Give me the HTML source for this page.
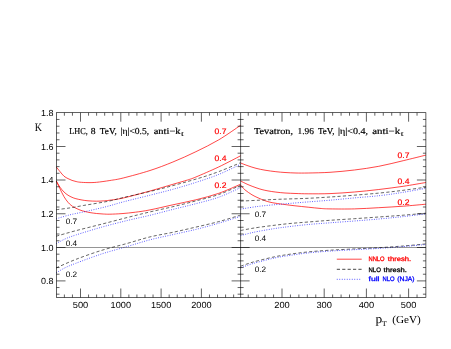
<!DOCTYPE html>
<html><head><meta charset="utf-8"><title>K factors</title>
<style>
html,body{margin:0;padding:0;background:#fff;}
body{width:451px;height:349px;overflow:hidden;font-family:"Liberation Sans",sans-serif;}
svg{display:block;will-change:transform;opacity:0.9999;}
svg text{text-rendering:geometricPrecision;}
</style></head><body>
<svg width="451" height="349" viewBox="0 0 451 349">
<rect width="451" height="349" fill="#ffffff"/>
<g fill="none">
<path d="M56.30,167.00 C56.92,167.77 58.72,170.07 60.00,171.60 C61.28,173.13 62.67,175.03 64.00,176.20 C65.33,177.37 66.67,177.90 68.00,178.60 C69.33,179.30 70.67,179.92 72.00,180.40 C73.33,180.88 74.68,181.20 76.00,181.50 C77.32,181.80 77.90,182.02 79.90,182.20 C81.90,182.38 85.22,182.58 88.00,182.60 C90.78,182.62 92.95,182.65 96.60,182.30 C100.25,181.95 105.47,181.22 109.90,180.50 C114.33,179.78 116.52,179.67 123.20,178.00 C129.88,176.33 141.72,173.17 150.00,170.50 C158.28,167.83 165.25,165.13 172.90,162.00 C180.55,158.87 188.25,155.40 195.90,151.70 C203.55,148.00 211.35,144.20 218.80,139.80 C226.25,135.40 236.97,127.72 240.60,125.30" stroke="#ff0000" stroke-width="0.72"/>
<path d="M56.30,181.00 C56.92,182.03 58.72,185.37 60.00,187.20 C61.28,189.03 62.67,190.67 64.00,192.00 C65.33,193.33 66.67,194.32 68.00,195.20 C69.33,196.08 70.68,196.72 72.00,197.30 C73.32,197.88 74.23,198.25 75.90,198.70 C77.57,199.15 79.98,199.65 82.00,200.00 C84.02,200.35 85.57,200.60 88.00,200.80 C90.43,201.00 94.07,201.18 96.60,201.20 C99.13,201.22 100.98,201.07 103.20,200.90 C105.42,200.73 106.57,200.68 109.90,200.20 C113.23,199.72 116.52,199.53 123.20,198.00 C129.88,196.47 141.72,193.28 150.00,191.00 C158.28,188.72 166.65,186.13 172.90,184.30 C179.15,182.47 183.67,181.22 187.50,180.00 C191.33,178.78 190.68,179.18 195.90,177.00 C201.12,174.82 211.35,170.43 218.80,166.90 C226.25,163.37 236.97,157.65 240.60,155.80" stroke="#ff0000" stroke-width="0.72"/>
<path d="M56.30,181.20 C56.92,182.47 58.72,186.22 60.00,188.80 C61.28,191.38 62.67,194.45 64.00,196.70 C65.33,198.95 66.83,200.88 68.00,202.30 C69.17,203.72 69.95,204.35 71.00,205.20 C72.05,206.05 72.80,206.60 74.30,207.40 C75.80,208.20 78.22,209.32 80.00,210.00 C81.78,210.68 83.33,211.07 85.00,211.50 C86.67,211.93 88.07,212.27 90.00,212.60 C91.93,212.93 94.40,213.27 96.60,213.50 C98.80,213.73 100.98,213.88 103.20,214.00 C105.42,214.12 106.77,214.27 109.90,214.20 C113.03,214.13 117.75,213.93 122.00,213.60 C126.25,213.27 130.73,212.82 135.40,212.20 C140.07,211.58 143.75,211.13 150.00,209.90 C156.25,208.67 165.25,206.48 172.90,204.80 C180.55,203.12 188.25,201.72 195.90,199.80 C203.55,197.88 211.35,195.90 218.80,193.30 C226.25,190.70 236.97,185.72 240.60,184.20" stroke="#ff0000" stroke-width="0.72"/>
<path d="M56.20,209.70 C58.50,209.40 65.48,208.60 70.00,207.90 C74.52,207.20 78.87,206.27 83.30,205.50 C87.73,204.73 92.17,204.07 96.60,203.30 C101.03,202.53 105.47,201.85 109.90,200.90 C114.33,199.95 114.85,199.58 123.20,197.60 C131.55,195.62 147.58,192.17 160.00,189.00 C172.42,185.83 187.90,181.50 197.70,178.60 C207.50,175.70 211.65,174.25 218.80,171.60 C225.95,168.95 236.97,164.18 240.60,162.70" stroke="#000000" stroke-width="0.60" stroke-dasharray="3.2,2.2"/>
<path d="M56.20,218.80 C58.50,218.13 65.48,215.93 70.00,214.80 C74.52,213.67 78.87,212.97 83.30,212.00 C87.73,211.03 92.17,210.05 96.60,209.00 C101.03,207.95 105.47,206.88 109.90,205.70 C114.33,204.52 116.52,203.65 123.20,201.90 C129.88,200.15 141.72,197.30 150.00,195.20 C158.28,193.10 165.25,191.43 172.90,189.30 C180.55,187.17 188.25,184.88 195.90,182.40 C203.55,179.92 211.35,177.42 218.80,174.40 C226.25,171.38 236.97,165.98 240.60,164.30" stroke="#0000ff" stroke-width="0.68" stroke-dasharray="0.9,1.5"/>
<path d="M56.20,236.20 C59.47,235.28 68.25,232.70 75.80,230.70 C83.35,228.70 92.92,226.40 101.50,224.20 C110.08,222.00 119.22,219.55 127.30,217.50 C135.38,215.45 142.40,213.70 150.00,211.90 C157.60,210.10 165.25,208.53 172.90,206.70 C180.55,204.87 188.25,202.93 195.90,200.90 C203.55,198.87 211.35,197.10 218.80,194.50 C226.25,191.90 236.97,186.83 240.60,185.30" stroke="#000000" stroke-width="0.60" stroke-dasharray="3.2,2.2"/>
<path d="M56.20,243.60 C57.67,242.83 61.73,240.43 65.00,239.00 C68.27,237.57 69.72,236.97 75.80,235.00 C81.88,233.03 92.92,229.62 101.50,227.20 C110.08,224.78 119.22,222.48 127.30,220.50 C135.38,218.52 142.40,217.15 150.00,215.30 C157.60,213.45 165.25,211.33 172.90,209.40 C180.55,207.47 188.25,205.73 195.90,203.70 C203.55,201.67 211.35,199.88 218.80,197.20 C226.25,194.52 236.97,189.20 240.60,187.60" stroke="#0000ff" stroke-width="0.68" stroke-dasharray="0.9,1.5"/>
<path d="M56.20,267.90 C59.47,266.48 68.25,262.32 75.80,259.40 C83.35,256.48 92.92,253.07 101.50,250.40 C110.08,247.73 119.22,245.65 127.30,243.40 C135.38,241.15 142.40,238.75 150.00,236.90 C157.60,235.05 165.25,233.93 172.90,232.30 C180.55,230.67 188.25,228.88 195.90,227.10 C203.55,225.32 211.35,223.60 218.80,221.60 C226.25,219.60 236.97,216.18 240.60,215.10" stroke="#000000" stroke-width="0.60" stroke-dasharray="3.2,2.2"/>
<path d="M56.20,272.80 C57.67,271.97 61.73,269.38 65.00,267.80 C68.27,266.22 69.72,265.60 75.80,263.30 C81.88,261.00 92.92,256.80 101.50,254.00 C110.08,251.20 119.22,248.87 127.30,246.50 C135.38,244.13 142.40,241.78 150.00,239.80 C157.60,237.82 165.25,236.33 172.90,234.60 C180.55,232.87 188.25,231.30 195.90,229.40 C203.55,227.50 211.35,225.38 218.80,223.20 C226.25,221.02 236.97,217.45 240.60,216.30" stroke="#0000ff" stroke-width="0.68" stroke-dasharray="0.9,1.5"/>
<path d="M240.60,163.00 C241.83,163.47 245.43,164.92 248.00,165.80 C250.57,166.68 253.17,167.57 256.00,168.30 C258.83,169.03 261.68,169.63 265.00,170.20 C268.32,170.77 272.57,171.32 275.90,171.70 C279.23,172.08 281.65,172.28 285.00,172.50 C288.35,172.72 292.13,172.92 296.00,173.00 C299.87,173.08 302.53,173.12 308.20,173.00 C313.87,172.88 322.30,172.80 330.00,172.30 C337.70,171.80 346.27,171.00 354.40,170.00 C362.53,169.00 370.67,167.85 378.80,166.30 C386.93,164.75 395.35,162.57 403.20,160.70 C411.05,158.83 422.12,156.03 425.90,155.10" stroke="#ff0000" stroke-width="0.72"/>
<path d="M240.60,181.00 C241.83,181.60 245.43,183.48 248.00,184.60 C250.57,185.72 253.67,186.87 256.00,187.70 C258.33,188.53 260.00,189.07 262.00,189.60 C264.00,190.13 265.68,190.48 268.00,190.90 C270.32,191.32 273.07,191.75 275.90,192.10 C278.73,192.45 281.65,192.77 285.00,193.00 C288.35,193.23 292.13,193.37 296.00,193.50 C299.87,193.63 302.53,193.78 308.20,193.80 C313.87,193.82 322.30,193.90 330.00,193.60 C337.70,193.30 346.27,192.68 354.40,192.00 C362.53,191.32 370.67,190.45 378.80,189.50 C386.93,188.55 395.35,187.47 403.20,186.30 C411.05,185.13 422.12,183.13 425.90,182.50" stroke="#ff0000" stroke-width="0.72"/>
<path d="M240.60,185.00 C241.32,185.80 243.00,188.17 244.90,189.80 C246.80,191.43 249.82,193.47 252.00,194.80 C254.18,196.13 255.93,196.85 258.00,197.80 C260.07,198.75 262.40,199.77 264.40,200.50 C266.40,201.23 268.07,201.73 270.00,202.20 C271.93,202.67 273.70,202.93 276.00,203.30 C278.30,203.67 280.63,203.98 283.80,204.40 C286.97,204.82 290.93,205.33 295.00,205.80 C299.07,206.27 304.03,206.77 308.20,207.20 C312.37,207.63 316.37,208.12 320.00,208.40 C323.63,208.68 324.27,208.82 330.00,208.90 C335.73,208.98 346.27,209.10 354.40,208.90 C362.53,208.70 370.67,208.15 378.80,207.70 C386.93,207.25 395.35,206.78 403.20,206.20 C411.05,205.62 422.12,204.53 425.90,204.20" stroke="#ff0000" stroke-width="0.72"/>
<path d="M240.60,201.10 C243.73,200.95 253.50,200.48 259.40,200.20 C265.30,199.92 270.90,199.62 276.00,199.40 C281.10,199.18 284.63,199.08 290.00,198.90 C295.37,198.72 301.53,198.62 308.20,198.30 C314.87,197.98 322.30,197.52 330.00,197.00 C337.70,196.48 346.07,195.87 354.40,195.20 C362.73,194.53 371.87,193.82 380.00,193.00 C388.13,192.18 395.55,191.27 403.20,190.30 C410.85,189.33 422.12,187.72 425.90,187.20" stroke="#000000" stroke-width="0.60" stroke-dasharray="3.2,2.2"/>
<path d="M240.60,209.10 C243.53,208.65 252.30,207.15 258.20,206.40 C264.10,205.65 270.70,205.10 276.00,204.60 C281.30,204.10 284.63,203.85 290.00,203.40 C295.37,202.95 301.53,202.43 308.20,201.90 C314.87,201.37 322.30,200.87 330.00,200.20 C337.70,199.53 346.07,198.67 354.40,197.90 C362.73,197.13 371.87,196.53 380.00,195.60 C388.13,194.67 395.55,193.52 403.20,192.30 C410.85,191.08 422.12,188.97 425.90,188.30" stroke="#0000ff" stroke-width="0.68" stroke-dasharray="0.9,1.5"/>
<path d="M240.60,230.50 C242.00,230.23 246.07,229.42 249.00,228.90 C251.93,228.38 253.87,228.02 258.20,227.40 C262.53,226.78 269.70,225.85 275.00,225.20 C280.30,224.55 284.47,224.03 290.00,223.50 C295.53,222.97 301.53,222.53 308.20,222.00 C314.87,221.47 322.30,220.85 330.00,220.30 C337.70,219.75 346.07,219.27 354.40,218.70 C362.73,218.13 371.87,217.48 380.00,216.90 C388.13,216.32 395.55,215.82 403.20,215.20 C410.85,214.58 422.12,213.53 425.90,213.20" stroke="#000000" stroke-width="0.60" stroke-dasharray="3.2,2.2"/>
<path d="M240.60,235.60 C242.00,235.23 246.07,234.10 249.00,233.40 C251.93,232.70 253.87,232.22 258.20,231.40 C262.53,230.58 269.70,229.32 275.00,228.50 C280.30,227.68 284.47,227.17 290.00,226.50 C295.53,225.83 301.53,225.12 308.20,224.50 C314.87,223.88 322.30,223.38 330.00,222.80 C337.70,222.22 346.07,221.65 354.40,221.00 C362.73,220.35 371.87,219.63 380.00,218.90 C388.13,218.17 395.55,217.45 403.20,216.60 C410.85,215.75 422.12,214.27 425.90,213.80" stroke="#0000ff" stroke-width="0.68" stroke-dasharray="0.9,1.5"/>
<path d="M240.60,266.20 C242.00,265.72 246.07,264.22 249.00,263.30 C251.93,262.38 253.87,261.80 258.20,260.70 C262.53,259.60 269.70,257.78 275.00,256.70 C280.30,255.62 284.47,255.00 290.00,254.20 C295.53,253.40 301.53,252.57 308.20,251.90 C314.87,251.23 322.30,250.70 330.00,250.20 C337.70,249.70 346.27,249.32 354.40,248.90 C362.53,248.48 370.67,248.18 378.80,247.70 C386.93,247.22 395.35,246.63 403.20,246.00 C411.05,245.37 422.12,244.25 425.90,243.90" stroke="#000000" stroke-width="0.60" stroke-dasharray="3.2,2.2"/>
<path d="M240.60,267.80 C242.00,267.30 246.07,265.75 249.00,264.80 C251.93,263.85 253.87,263.25 258.20,262.10 C262.53,260.95 269.70,259.02 275.00,257.90 C280.30,256.78 284.47,256.23 290.00,255.40 C295.53,254.57 301.53,253.62 308.20,252.90 C314.87,252.18 322.30,251.63 330.00,251.10 C337.70,250.57 346.27,250.15 354.40,249.70 C362.53,249.25 370.67,248.92 378.80,248.40 C386.93,247.88 395.35,247.25 403.20,246.60 C411.05,245.95 422.12,244.85 425.90,244.50" stroke="#0000ff" stroke-width="0.68" stroke-dasharray="0.9,1.5"/>
</g>
<g stroke="#000" stroke-width="0.62" fill="none" shape-rendering="auto">
<rect x="56.50" y="112.70" width="369.40" height="184.80"/>
<line x1="240.60" y1="112.70" x2="240.60" y2="297.50"/>
<line x1="56.50" y1="247.50" x2="425.90" y2="247.50" stroke-width="0.42"/>
<line x1="56.50" y1="119.46" x2="59.50" y2="119.46"/>
<line x1="422.90" y1="119.46" x2="425.90" y2="119.46"/>
<line x1="237.60" y1="119.46" x2="243.60" y2="119.46"/>
<line x1="56.50" y1="126.22" x2="59.50" y2="126.22"/>
<line x1="422.90" y1="126.22" x2="425.90" y2="126.22"/>
<line x1="237.60" y1="126.22" x2="243.60" y2="126.22"/>
<line x1="56.50" y1="132.98" x2="59.50" y2="132.98"/>
<line x1="422.90" y1="132.98" x2="425.90" y2="132.98"/>
<line x1="237.60" y1="132.98" x2="243.60" y2="132.98"/>
<line x1="56.50" y1="139.74" x2="59.50" y2="139.74"/>
<line x1="422.90" y1="139.74" x2="425.90" y2="139.74"/>
<line x1="237.60" y1="139.74" x2="243.60" y2="139.74"/>
<line x1="56.50" y1="146.50" x2="65.50" y2="146.50"/>
<line x1="416.90" y1="146.50" x2="425.90" y2="146.50"/>
<line x1="231.60" y1="146.50" x2="249.60" y2="146.50"/>
<line x1="56.50" y1="153.20" x2="59.50" y2="153.20"/>
<line x1="422.90" y1="153.20" x2="425.90" y2="153.20"/>
<line x1="237.60" y1="153.20" x2="243.60" y2="153.20"/>
<line x1="56.50" y1="159.90" x2="59.50" y2="159.90"/>
<line x1="422.90" y1="159.90" x2="425.90" y2="159.90"/>
<line x1="237.60" y1="159.90" x2="243.60" y2="159.90"/>
<line x1="56.50" y1="166.60" x2="59.50" y2="166.60"/>
<line x1="422.90" y1="166.60" x2="425.90" y2="166.60"/>
<line x1="237.60" y1="166.60" x2="243.60" y2="166.60"/>
<line x1="56.50" y1="173.30" x2="59.50" y2="173.30"/>
<line x1="422.90" y1="173.30" x2="425.90" y2="173.30"/>
<line x1="237.60" y1="173.30" x2="243.60" y2="173.30"/>
<line x1="56.50" y1="180.00" x2="65.50" y2="180.00"/>
<line x1="416.90" y1="180.00" x2="425.90" y2="180.00"/>
<line x1="231.60" y1="180.00" x2="249.60" y2="180.00"/>
<line x1="56.50" y1="186.75" x2="59.50" y2="186.75"/>
<line x1="422.90" y1="186.75" x2="425.90" y2="186.75"/>
<line x1="237.60" y1="186.75" x2="243.60" y2="186.75"/>
<line x1="56.50" y1="193.50" x2="59.50" y2="193.50"/>
<line x1="422.90" y1="193.50" x2="425.90" y2="193.50"/>
<line x1="237.60" y1="193.50" x2="243.60" y2="193.50"/>
<line x1="56.50" y1="200.25" x2="59.50" y2="200.25"/>
<line x1="422.90" y1="200.25" x2="425.90" y2="200.25"/>
<line x1="237.60" y1="200.25" x2="243.60" y2="200.25"/>
<line x1="56.50" y1="207.00" x2="59.50" y2="207.00"/>
<line x1="422.90" y1="207.00" x2="425.90" y2="207.00"/>
<line x1="237.60" y1="207.00" x2="243.60" y2="207.00"/>
<line x1="56.50" y1="213.75" x2="65.50" y2="213.75"/>
<line x1="416.90" y1="213.75" x2="425.90" y2="213.75"/>
<line x1="231.60" y1="213.75" x2="249.60" y2="213.75"/>
<line x1="56.50" y1="220.50" x2="59.50" y2="220.50"/>
<line x1="422.90" y1="220.50" x2="425.90" y2="220.50"/>
<line x1="237.60" y1="220.50" x2="243.60" y2="220.50"/>
<line x1="56.50" y1="227.25" x2="59.50" y2="227.25"/>
<line x1="422.90" y1="227.25" x2="425.90" y2="227.25"/>
<line x1="237.60" y1="227.25" x2="243.60" y2="227.25"/>
<line x1="56.50" y1="234.00" x2="59.50" y2="234.00"/>
<line x1="422.90" y1="234.00" x2="425.90" y2="234.00"/>
<line x1="237.60" y1="234.00" x2="243.60" y2="234.00"/>
<line x1="56.50" y1="240.75" x2="59.50" y2="240.75"/>
<line x1="422.90" y1="240.75" x2="425.90" y2="240.75"/>
<line x1="237.60" y1="240.75" x2="243.60" y2="240.75"/>
<line x1="56.50" y1="247.50" x2="65.50" y2="247.50"/>
<line x1="416.90" y1="247.50" x2="425.90" y2="247.50"/>
<line x1="231.60" y1="247.50" x2="249.60" y2="247.50"/>
<line x1="56.50" y1="254.18" x2="59.50" y2="254.18"/>
<line x1="422.90" y1="254.18" x2="425.90" y2="254.18"/>
<line x1="237.60" y1="254.18" x2="243.60" y2="254.18"/>
<line x1="56.50" y1="260.86" x2="59.50" y2="260.86"/>
<line x1="422.90" y1="260.86" x2="425.90" y2="260.86"/>
<line x1="237.60" y1="260.86" x2="243.60" y2="260.86"/>
<line x1="56.50" y1="267.54" x2="59.50" y2="267.54"/>
<line x1="422.90" y1="267.54" x2="425.90" y2="267.54"/>
<line x1="237.60" y1="267.54" x2="243.60" y2="267.54"/>
<line x1="56.50" y1="274.22" x2="59.50" y2="274.22"/>
<line x1="422.90" y1="274.22" x2="425.90" y2="274.22"/>
<line x1="237.60" y1="274.22" x2="243.60" y2="274.22"/>
<line x1="56.50" y1="280.90" x2="65.50" y2="280.90"/>
<line x1="416.90" y1="280.90" x2="425.90" y2="280.90"/>
<line x1="231.60" y1="280.90" x2="249.60" y2="280.90"/>
<line x1="56.50" y1="287.54" x2="59.50" y2="287.54"/>
<line x1="422.90" y1="287.54" x2="425.90" y2="287.54"/>
<line x1="237.60" y1="287.54" x2="243.60" y2="287.54"/>
<line x1="56.50" y1="294.18" x2="59.50" y2="294.18"/>
<line x1="422.90" y1="294.18" x2="425.90" y2="294.18"/>
<line x1="237.60" y1="294.18" x2="243.60" y2="294.18"/>
<line x1="64.38" y1="112.70" x2="64.38" y2="115.70"/>
<line x1="64.38" y1="294.50" x2="64.38" y2="297.50"/>
<line x1="72.44" y1="112.70" x2="72.44" y2="115.70"/>
<line x1="72.44" y1="294.50" x2="72.44" y2="297.50"/>
<line x1="80.50" y1="112.70" x2="80.50" y2="121.70"/>
<line x1="80.50" y1="288.50" x2="80.50" y2="297.50"/>
<line x1="88.56" y1="112.70" x2="88.56" y2="115.70"/>
<line x1="88.56" y1="294.50" x2="88.56" y2="297.50"/>
<line x1="96.62" y1="112.70" x2="96.62" y2="115.70"/>
<line x1="96.62" y1="294.50" x2="96.62" y2="297.50"/>
<line x1="104.68" y1="112.70" x2="104.68" y2="115.70"/>
<line x1="104.68" y1="294.50" x2="104.68" y2="297.50"/>
<line x1="112.74" y1="112.70" x2="112.74" y2="115.70"/>
<line x1="112.74" y1="294.50" x2="112.74" y2="297.50"/>
<line x1="120.80" y1="112.70" x2="120.80" y2="121.70"/>
<line x1="120.80" y1="288.50" x2="120.80" y2="297.50"/>
<line x1="128.86" y1="112.70" x2="128.86" y2="115.70"/>
<line x1="128.86" y1="294.50" x2="128.86" y2="297.50"/>
<line x1="136.92" y1="112.70" x2="136.92" y2="115.70"/>
<line x1="136.92" y1="294.50" x2="136.92" y2="297.50"/>
<line x1="144.98" y1="112.70" x2="144.98" y2="115.70"/>
<line x1="144.98" y1="294.50" x2="144.98" y2="297.50"/>
<line x1="153.04" y1="112.70" x2="153.04" y2="115.70"/>
<line x1="153.04" y1="294.50" x2="153.04" y2="297.50"/>
<line x1="161.10" y1="112.70" x2="161.10" y2="121.70"/>
<line x1="161.10" y1="288.50" x2="161.10" y2="297.50"/>
<line x1="169.16" y1="112.70" x2="169.16" y2="115.70"/>
<line x1="169.16" y1="294.50" x2="169.16" y2="297.50"/>
<line x1="177.22" y1="112.70" x2="177.22" y2="115.70"/>
<line x1="177.22" y1="294.50" x2="177.22" y2="297.50"/>
<line x1="185.28" y1="112.70" x2="185.28" y2="115.70"/>
<line x1="185.28" y1="294.50" x2="185.28" y2="297.50"/>
<line x1="193.34" y1="112.70" x2="193.34" y2="115.70"/>
<line x1="193.34" y1="294.50" x2="193.34" y2="297.50"/>
<line x1="201.40" y1="112.70" x2="201.40" y2="121.70"/>
<line x1="201.40" y1="288.50" x2="201.40" y2="297.50"/>
<line x1="209.46" y1="112.70" x2="209.46" y2="115.70"/>
<line x1="209.46" y1="294.50" x2="209.46" y2="297.50"/>
<line x1="217.52" y1="112.70" x2="217.52" y2="115.70"/>
<line x1="217.52" y1="294.50" x2="217.52" y2="297.50"/>
<line x1="225.58" y1="112.70" x2="225.58" y2="115.70"/>
<line x1="225.58" y1="294.50" x2="225.58" y2="297.50"/>
<line x1="233.64" y1="112.70" x2="233.64" y2="115.70"/>
<line x1="233.64" y1="294.50" x2="233.64" y2="297.50"/>
<line x1="248.24" y1="112.70" x2="248.24" y2="115.70"/>
<line x1="248.24" y1="294.50" x2="248.24" y2="297.50"/>
<line x1="256.68" y1="112.70" x2="256.68" y2="115.70"/>
<line x1="256.68" y1="294.50" x2="256.68" y2="297.50"/>
<line x1="265.12" y1="112.70" x2="265.12" y2="115.70"/>
<line x1="265.12" y1="294.50" x2="265.12" y2="297.50"/>
<line x1="273.56" y1="112.70" x2="273.56" y2="115.70"/>
<line x1="273.56" y1="294.50" x2="273.56" y2="297.50"/>
<line x1="282.00" y1="112.70" x2="282.00" y2="121.70"/>
<line x1="282.00" y1="288.50" x2="282.00" y2="297.50"/>
<line x1="290.44" y1="112.70" x2="290.44" y2="115.70"/>
<line x1="290.44" y1="294.50" x2="290.44" y2="297.50"/>
<line x1="298.88" y1="112.70" x2="298.88" y2="115.70"/>
<line x1="298.88" y1="294.50" x2="298.88" y2="297.50"/>
<line x1="307.32" y1="112.70" x2="307.32" y2="115.70"/>
<line x1="307.32" y1="294.50" x2="307.32" y2="297.50"/>
<line x1="315.76" y1="112.70" x2="315.76" y2="115.70"/>
<line x1="315.76" y1="294.50" x2="315.76" y2="297.50"/>
<line x1="324.20" y1="112.70" x2="324.20" y2="121.70"/>
<line x1="324.20" y1="288.50" x2="324.20" y2="297.50"/>
<line x1="332.64" y1="112.70" x2="332.64" y2="115.70"/>
<line x1="332.64" y1="294.50" x2="332.64" y2="297.50"/>
<line x1="341.08" y1="112.70" x2="341.08" y2="115.70"/>
<line x1="341.08" y1="294.50" x2="341.08" y2="297.50"/>
<line x1="349.52" y1="112.70" x2="349.52" y2="115.70"/>
<line x1="349.52" y1="294.50" x2="349.52" y2="297.50"/>
<line x1="357.96" y1="112.70" x2="357.96" y2="115.70"/>
<line x1="357.96" y1="294.50" x2="357.96" y2="297.50"/>
<line x1="366.40" y1="112.70" x2="366.40" y2="121.70"/>
<line x1="366.40" y1="288.50" x2="366.40" y2="297.50"/>
<line x1="374.84" y1="112.70" x2="374.84" y2="115.70"/>
<line x1="374.84" y1="294.50" x2="374.84" y2="297.50"/>
<line x1="383.28" y1="112.70" x2="383.28" y2="115.70"/>
<line x1="383.28" y1="294.50" x2="383.28" y2="297.50"/>
<line x1="391.72" y1="112.70" x2="391.72" y2="115.70"/>
<line x1="391.72" y1="294.50" x2="391.72" y2="297.50"/>
<line x1="400.16" y1="112.70" x2="400.16" y2="115.70"/>
<line x1="400.16" y1="294.50" x2="400.16" y2="297.50"/>
<line x1="408.60" y1="112.70" x2="408.60" y2="121.70"/>
<line x1="408.60" y1="288.50" x2="408.60" y2="297.50"/>
<line x1="417.04" y1="112.70" x2="417.04" y2="115.70"/>
<line x1="417.04" y1="294.50" x2="417.04" y2="297.50"/>
</g>
<g fill="none">
<line x1="336.8" y1="259.2" x2="361.7" y2="259.2" stroke="#ff0000" stroke-width="0.72"/>
<line x1="336.8" y1="269.3" x2="361.7" y2="269.3" stroke="#000000" stroke-width="0.72" stroke-dasharray="3.2,2.2"/>
<line x1="336.8" y1="279.3" x2="361.7" y2="279.3" stroke="#0000ff" stroke-width="0.72" stroke-dasharray="0.9,1.6"/>
</g>
<text x="41.00" y="115.90" font-size="8.90" font-family="Liberation Sans, sans-serif" text-anchor="start" fill="#000" textLength="12.50" lengthAdjust="spacingAndGlyphs" >1.8</text>
<text x="41.00" y="149.70" font-size="8.90" font-family="Liberation Sans, sans-serif" text-anchor="start" fill="#000" textLength="12.50" lengthAdjust="spacingAndGlyphs" >1.6</text>
<text x="41.00" y="183.20" font-size="8.90" font-family="Liberation Sans, sans-serif" text-anchor="start" fill="#000" textLength="12.50" lengthAdjust="spacingAndGlyphs" >1.4</text>
<text x="41.00" y="216.95" font-size="8.90" font-family="Liberation Sans, sans-serif" text-anchor="start" fill="#000" textLength="12.50" lengthAdjust="spacingAndGlyphs" >1.2</text>
<text x="41.00" y="250.70" font-size="8.90" font-family="Liberation Sans, sans-serif" text-anchor="start" fill="#000" textLength="12.50" lengthAdjust="spacingAndGlyphs" >1.0</text>
<text x="41.00" y="284.10" font-size="8.90" font-family="Liberation Sans, sans-serif" text-anchor="start" fill="#000" textLength="12.50" lengthAdjust="spacingAndGlyphs" >0.8</text>
<text x="72.75" y="308.30" font-size="8.90" font-family="Liberation Sans, sans-serif" text-anchor="start" fill="#000" textLength="15.50" lengthAdjust="spacingAndGlyphs" >500</text>
<text x="110.60" y="308.30" font-size="8.90" font-family="Liberation Sans, sans-serif" text-anchor="start" fill="#000" textLength="20.40" lengthAdjust="spacingAndGlyphs" >1000</text>
<text x="150.90" y="308.30" font-size="8.90" font-family="Liberation Sans, sans-serif" text-anchor="start" fill="#000" textLength="20.40" lengthAdjust="spacingAndGlyphs" >1500</text>
<text x="191.20" y="308.30" font-size="8.90" font-family="Liberation Sans, sans-serif" text-anchor="start" fill="#000" textLength="20.40" lengthAdjust="spacingAndGlyphs" >2000</text>
<text x="274.25" y="308.30" font-size="8.90" font-family="Liberation Sans, sans-serif" text-anchor="start" fill="#000" textLength="15.50" lengthAdjust="spacingAndGlyphs" >200</text>
<text x="316.45" y="308.30" font-size="8.90" font-family="Liberation Sans, sans-serif" text-anchor="start" fill="#000" textLength="15.50" lengthAdjust="spacingAndGlyphs" >300</text>
<text x="358.65" y="308.30" font-size="8.90" font-family="Liberation Sans, sans-serif" text-anchor="start" fill="#000" textLength="15.50" lengthAdjust="spacingAndGlyphs" >400</text>
<text x="400.85" y="308.30" font-size="8.90" font-family="Liberation Sans, sans-serif" text-anchor="start" fill="#000" textLength="15.50" lengthAdjust="spacingAndGlyphs" >500</text>
<text x="34.79" y="130.60" font-size="11.30" font-family="Liberation Serif, serif" text-anchor="start" fill="#000" textLength="7.22" lengthAdjust="spacingAndGlyphs" >K</text>
<text x="214.50" y="134.35" font-size="8.00" font-family="Liberation Sans, sans-serif" text-anchor="start" fill="#ff0000" textLength="11.90" lengthAdjust="spacingAndGlyphs" stroke="#ff0000" stroke-width="0.2">0.7</text>
<text x="214.50" y="161.35" font-size="8.00" font-family="Liberation Sans, sans-serif" text-anchor="start" fill="#ff0000" textLength="11.90" lengthAdjust="spacingAndGlyphs" stroke="#ff0000" stroke-width="0.2">0.4</text>
<text x="214.50" y="187.85" font-size="8.00" font-family="Liberation Sans, sans-serif" text-anchor="start" fill="#ff0000" textLength="11.90" lengthAdjust="spacingAndGlyphs" stroke="#ff0000" stroke-width="0.2">0.2</text>
<text x="397.60" y="157.95" font-size="8.00" font-family="Liberation Sans, sans-serif" text-anchor="start" fill="#ff0000" textLength="11.90" lengthAdjust="spacingAndGlyphs" stroke="#ff0000" stroke-width="0.2">0.7</text>
<text x="397.60" y="184.25" font-size="8.00" font-family="Liberation Sans, sans-serif" text-anchor="start" fill="#ff0000" textLength="11.90" lengthAdjust="spacingAndGlyphs" stroke="#ff0000" stroke-width="0.2">0.4</text>
<text x="397.60" y="204.75" font-size="8.00" font-family="Liberation Sans, sans-serif" text-anchor="start" fill="#ff0000" textLength="11.90" lengthAdjust="spacingAndGlyphs" stroke="#ff0000" stroke-width="0.2">0.2</text>
<text x="65.70" y="223.70" font-size="7.90" font-family="Liberation Sans, sans-serif" text-anchor="start" fill="#000000" textLength="11.50" lengthAdjust="spacingAndGlyphs" >0.7</text>
<text x="65.70" y="245.50" font-size="7.90" font-family="Liberation Sans, sans-serif" text-anchor="start" fill="#000000" textLength="11.50" lengthAdjust="spacingAndGlyphs" >0.4</text>
<text x="65.70" y="276.90" font-size="7.90" font-family="Liberation Sans, sans-serif" text-anchor="start" fill="#000000" textLength="11.50" lengthAdjust="spacingAndGlyphs" >0.2</text>
<text x="254.70" y="216.60" font-size="7.90" font-family="Liberation Sans, sans-serif" text-anchor="start" fill="#000000" textLength="11.50" lengthAdjust="spacingAndGlyphs" >0.7</text>
<text x="254.70" y="241.10" font-size="7.90" font-family="Liberation Sans, sans-serif" text-anchor="start" fill="#000000" textLength="11.50" lengthAdjust="spacingAndGlyphs" >0.4</text>
<text x="254.70" y="272.30" font-size="7.90" font-family="Liberation Sans, sans-serif" text-anchor="start" fill="#000000" textLength="11.50" lengthAdjust="spacingAndGlyphs" >0.2</text>
<text x="69.29" y="134.30" font-size="9.10" font-family="Liberation Serif, serif" text-anchor="start" fill="#000" textLength="18.42" lengthAdjust="spacingAndGlyphs" stroke="#000" stroke-width="0.18">LHC,</text>
<text x="90.89" y="134.30" font-size="9.10" font-family="Liberation Serif, serif" text-anchor="start" fill="#000" textLength="4.82" lengthAdjust="spacingAndGlyphs" stroke="#000" stroke-width="0.18">8</text>
<text x="99.89" y="134.30" font-size="9.10" font-family="Liberation Serif, serif" text-anchor="start" fill="#000" textLength="16.82" lengthAdjust="spacingAndGlyphs" stroke="#000" stroke-width="0.18">TeV,</text>
<text x="120.59" y="134.30" font-size="9.10" font-family="Liberation Serif, serif" text-anchor="start" fill="#000" textLength="28.62" lengthAdjust="spacingAndGlyphs" stroke="#000" stroke-width="0.18">|&#951;|&lt;0.5,</text>
<text x="153.69" y="134.30" font-size="9.10" font-family="Liberation Serif, serif" text-anchor="start" fill="#000" textLength="26.92" lengthAdjust="spacingAndGlyphs" stroke="#000" stroke-width="0.18">anti&#8722;k</text>
<text x="180.69" y="136.10" font-size="7.00" font-family="Liberation Serif, serif" text-anchor="start" fill="#000" textLength="3.43" lengthAdjust="spacingAndGlyphs" >t</text>
<text x="253.99" y="134.30" font-size="9.10" font-family="Liberation Serif, serif" text-anchor="start" fill="#000" textLength="39.02" lengthAdjust="spacingAndGlyphs" stroke="#000" stroke-width="0.18">Tevatron,</text>
<text x="297.49" y="134.30" font-size="9.10" font-family="Liberation Serif, serif" text-anchor="start" fill="#000" textLength="16.42" lengthAdjust="spacingAndGlyphs" stroke="#000" stroke-width="0.18">1.96</text>
<text x="317.99" y="134.30" font-size="9.10" font-family="Liberation Serif, serif" text-anchor="start" fill="#000" textLength="16.42" lengthAdjust="spacingAndGlyphs" stroke="#000" stroke-width="0.18">TeV,</text>
<text x="337.99" y="134.30" font-size="9.10" font-family="Liberation Serif, serif" text-anchor="start" fill="#000" textLength="30.02" lengthAdjust="spacingAndGlyphs" stroke="#000" stroke-width="0.18">|&#951;|&lt;0.4,</text>
<text x="372.29" y="134.30" font-size="9.10" font-family="Liberation Serif, serif" text-anchor="start" fill="#000" textLength="27.92" lengthAdjust="spacingAndGlyphs" stroke="#000" stroke-width="0.18">anti&#8722;k</text>
<text x="400.49" y="136.10" font-size="7.00" font-family="Liberation Serif, serif" text-anchor="start" fill="#000" textLength="3.43" lengthAdjust="spacingAndGlyphs" >t</text>
<text x="368.51" y="261.40" font-size="6.40" font-family="Liberation Sans, sans-serif" text-anchor="start" fill="#ff0000" textLength="16.08" lengthAdjust="spacingAndGlyphs" stroke="#ff0000" stroke-width="0.28">NNLO</text>
<text x="387.81" y="261.40" font-size="6.40" font-family="Liberation Sans, sans-serif" text-anchor="start" fill="#ff0000" textLength="23.38" lengthAdjust="spacingAndGlyphs" stroke="#ff0000" stroke-width="0.28">thresh.</text>
<text x="368.51" y="271.50" font-size="6.40" font-family="Liberation Sans, sans-serif" text-anchor="start" fill="#000000" textLength="12.38" lengthAdjust="spacingAndGlyphs" stroke="#000000" stroke-width="0.28">NLO</text>
<text x="383.61" y="271.50" font-size="6.40" font-family="Liberation Sans, sans-serif" text-anchor="start" fill="#000000" textLength="23.18" lengthAdjust="spacingAndGlyphs" stroke="#000000" stroke-width="0.28">thresh.</text>
<text x="368.51" y="281.30" font-size="6.40" font-family="Liberation Sans, sans-serif" text-anchor="start" fill="#0000ff" textLength="10.98" lengthAdjust="spacingAndGlyphs" stroke="#0000ff" stroke-width="0.28">full</text>
<text x="382.51" y="281.30" font-size="6.40" font-family="Liberation Sans, sans-serif" text-anchor="start" fill="#0000ff" textLength="12.08" lengthAdjust="spacingAndGlyphs" stroke="#0000ff" stroke-width="0.28">NLO</text>
<text x="397.31" y="281.30" font-size="6.40" font-family="Liberation Sans, sans-serif" text-anchor="start" fill="#0000ff" textLength="17.28" lengthAdjust="spacingAndGlyphs" stroke="#0000ff" stroke-width="0.28">(NJA)</text>
<text x="375.44" y="323.20" font-size="12.50" font-family="Liberation Serif, serif" text-anchor="start" fill="#000" textLength="6.73" lengthAdjust="spacingAndGlyphs" >p</text>
<text x="381.88" y="326.40" font-size="7.20" font-family="Liberation Serif, serif" text-anchor="start" fill="#000" textLength="5.05" lengthAdjust="spacingAndGlyphs" >T</text>
<text x="392.32" y="323.20" font-size="10.70" font-family="Liberation Serif, serif" text-anchor="start" fill="#000" textLength="28.46" lengthAdjust="spacingAndGlyphs" >(GeV)</text>
</svg>
</body></html>
